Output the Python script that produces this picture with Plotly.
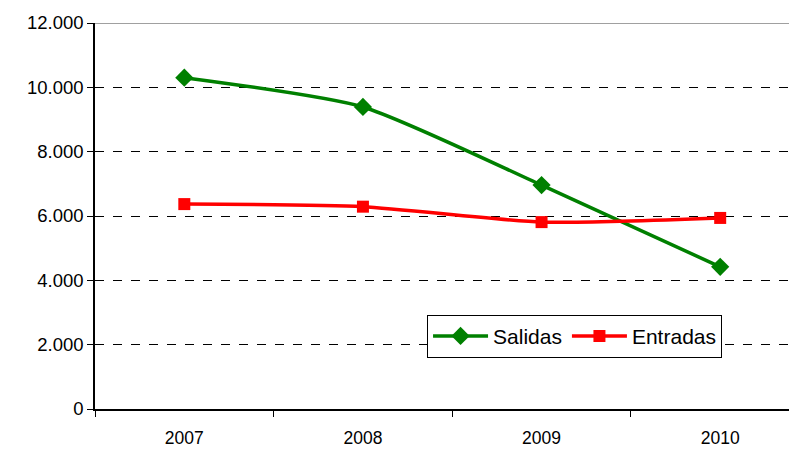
"""Salidas vs Entradas, 2007-2010."""
import plotly.graph_objects as go

YEARS = ["2007", "2008", "2009", "2010"]
SALIDAS = [10300, 9390, 6960, 4420]
ENTRADAS = [6370, 6290, 5810, 5940]

GREEN = "#008000"
RED = "#ff0000"
FONT = "Liberation Sans, Arial, sans-serif"

fig = go.Figure()
fig.add_trace(go.Scatter(
    x=YEARS, y=SALIDAS, name="Salidas", mode="lines+markers",
    line=dict(color=GREEN, width=3.5, shape="spline", smoothing=0.6),
    marker=dict(symbol="diamond", size=14, color=GREEN),
))
fig.add_trace(go.Scatter(
    x=YEARS, y=ENTRADAS, name="Entradas", mode="lines+markers",
    line=dict(color=RED, width=3.5, shape="spline", smoothing=0.6),
    marker=dict(symbol="square", size=12, color=RED),
))

# solid grey top border at the top of the scale
fig.add_shape(type="line", xref="paper", yref="y", x0=0, x1=1, y0=12000, y1=12000,
              line=dict(color="#808080", width=1.5))

# page body has an 8px margin, so the figure is shrunk by that much
fig.update_layout(
    width=789, height=445,
    margin=dict(l=87, r=0, t=15, b=44),
    plot_bgcolor="white", paper_bgcolor="white",
    separators=",.",
    font=dict(family=FONT, size=18, color="black"),
    showlegend=True,
    legend=dict(
        orientation="h", x=0.473, y=0.244, xanchor="left", yanchor="top",
        bordercolor="black", borderwidth=1, bgcolor="white",
        font=dict(size=21), itemwidth=55,
    ),
    xaxis=dict(
        type="category", range=[-0.5, 3.43],
        showline=True, linecolor="black", linewidth=1.5,
        ticks="outside", tickson="boundaries", ticklen=6, tickcolor="black",
        showgrid=False, ticklabelstandoff=12, tickfont=dict(size=17.5),
    ),
    yaxis=dict(
        range=[0, 12000], dtick=2000, tickformat=",d",
        showline=True, linecolor="black", linewidth=1.5,
        ticks="outside", ticklen=6, tickcolor="black",
        showgrid=True, gridcolor="black", griddash="dash", gridwidth=1,
        zeroline=False, tickfont=dict(size=18.5),
    ),
)

fig.write_html("out.html")
